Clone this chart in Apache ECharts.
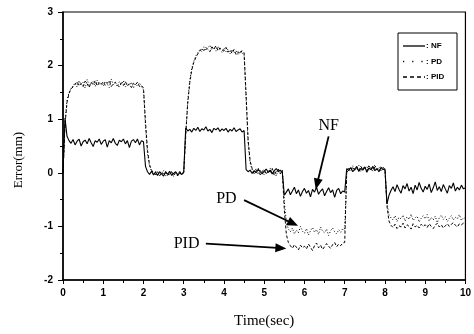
<!DOCTYPE html>
<html>
<head>
<meta charset="utf-8">
<script src="https://cdn.jsdelivr.net/npm/echarts@6/dist/echarts.min.js"></script>
<style>
  html, body { margin: 0; padding: 0; background: #fff; }
  #chart { width: 474px; height: 334px; }
</style>
</head>
<body>
<div id="chart"></div>
<script>
// Tracking error of three controllers, sampled every 0.05 s from 0 to 10 s.
const sampleStep = 0.05;

// NF controller error (mm), one row per second
const nf = [
  0.00, 1.02, 0.68, 0.60, 0.55, 0.62, 0.52, 0.59, 0.63, 0.50, 0.58, 0.61, 0.54, 0.64, 0.56, 0.49, 0.60, 0.57, 0.63, 0.53,
  0.59, 0.62, 0.48, 0.60, 0.56, 0.64, 0.55, 0.51, 0.61, 0.58, 0.63, 0.54, 0.60, 0.47, 0.59, 0.62, 0.56, 0.63, 0.52, 0.60,
  0.58, 0.12, 0.02, -0.03, 0.03, -0.04, 0.01, -0.05, 0.02, -0.02, -0.06, 0.01, -0.03, 0.03, -0.05, -0.01, 0.02, -0.04, 0.00, -0.03,
  0.02, 0.84, 0.78, 0.81, 0.76, 0.83, 0.79, 0.85, 0.77, 0.82, 0.80, 0.86, 0.78, 0.81, 0.75, 0.83, 0.80, 0.84, 0.77, 0.82,
  0.79, 0.83, 0.76, 0.81, 0.78, 0.84, 0.77, 0.80, 0.82, 0.76, 0.79, 0.06, 0.02, 0.05, -0.01, 0.04, 0.00, 0.06, 0.02, -0.02,
  0.03, 0.07, 0.01, 0.05, -0.02, 0.04, 0.08, 0.02, 0.05, 0.00, -0.42, -0.36, -0.30, -0.41, -0.34, -0.27, -0.39, -0.32, -0.44, -0.35,
  -0.29, -0.38, -0.33, -0.45, -0.31, -0.36, -0.27, -0.40, -0.34, -0.30, -0.43, -0.35, -0.28, -0.37, -0.32, -0.46, -0.33, -0.29, -0.39, -0.34,
  -0.36, 0.08, 0.04, 0.10, 0.02, 0.07, 0.12, 0.03, 0.08, 0.05, 0.11, 0.01, 0.09, 0.06, 0.12, 0.04, 0.08, 0.02, 0.10, 0.06,
  0.07, -0.58, -0.42, -0.33, -0.26, -0.35, -0.22, -0.31, -0.38, -0.24, -0.30, -0.20, -0.34, -0.27, -0.39, -0.23, -0.32, -0.18, -0.29, -0.36,
  -0.25, -0.31, -0.21, -0.37, -0.28, -0.17, -0.33, -0.26, -0.35, -0.22, -0.30, -0.38, -0.24, -0.29, -0.19, -0.34, -0.27, -0.32, -0.23, -0.30,
  -0.28
];

// PD controller error (mm)
const pd = [
  0.00, 0.95, 1.35, 1.50, 1.58, 1.62, 1.68, 1.60, 1.72, 1.64, 1.69, 1.58, 1.74, 1.63, 1.67, 1.70, 1.61, 1.73, 1.65, 1.68,
  1.62, 1.71, 1.66, 1.59, 1.75, 1.64, 1.68, 1.61, 1.70, 1.65, 1.72, 1.60, 1.67, 1.63, 1.69, 1.58, 1.66, 1.62, 1.68, 1.60,
  1.55, 0.85, 0.35, 0.12, 0.04, -0.02, 0.03, -0.05, 0.01, -0.03, 0.04, -0.06, 0.00, -0.04, 0.02, -0.07, 0.01, -0.02, 0.03, -0.05,
  0.00, 0.75, 1.35, 1.72, 1.95, 2.08, 2.18, 2.24, 2.30, 2.26, 2.35, 2.28, 2.33, 2.38, 2.29, 2.34, 2.27, 2.36, 2.30, 2.25,
  2.33, 2.26, 2.31, 2.22, 2.30, 2.24, 2.28, 2.20, 2.27, 2.23, 2.21, 1.35, 0.55, 0.18, 0.06, 0.02, 0.08, -0.03, 0.05, 0.01,
  -0.04, 0.06, 0.00, 0.09, -0.02, 0.04, -0.06, 0.07, 0.01, 0.05, -0.55, -0.92, -1.05, -1.10, -1.03, -1.14, -1.07, -1.12, -1.00, -1.09,
  -1.13, -1.04, -1.16, -1.08, -1.02, -1.11, -1.06, -1.15, -1.01, -1.09, -1.12, -1.05, -1.17, -1.08, -1.03, -1.10, -1.14, -1.06, -1.11, -1.04,
  -1.08, 0.02, 0.10, 0.06, 0.13, 0.04, 0.09, 0.14, 0.03, 0.11, 0.07, 0.12, 0.05, 0.10, 0.08, 0.15, 0.04, 0.09, 0.12, 0.06,
  0.08, -0.55, -0.78, -0.84, -0.88, -0.80, -0.91, -0.83, -0.86, -0.79, -0.90, -0.82, -0.87, -0.77, -0.89, -0.84, -0.81, -0.92, -0.85, -0.80,
  -0.86, -0.78, -0.90, -0.83, -0.88, -0.81, -0.93, -0.84, -0.79, -0.87, -0.82, -0.91, -0.85, -0.80, -0.88, -0.83, -0.86, -0.78, -0.89, -0.84,
  -0.85
];

// PID controller error (mm)
const pid = [
  0.00, 0.90, 1.32, 1.48, 1.57, 1.60, 1.65, 1.70, 1.62, 1.67, 1.61, 1.71, 1.66, 1.59, 1.69, 1.64, 1.72, 1.62, 1.68, 1.65,
  1.70, 1.63, 1.67, 1.72, 1.61, 1.66, 1.69, 1.64, 1.60, 1.68, 1.63, 1.70, 1.62, 1.66, 1.59, 1.67, 1.64, 1.69, 1.61, 1.63,
  1.58, 0.95, 0.42, 0.15, 0.05, 0.00, -0.04, 0.02, -0.06, 0.01, -0.02, 0.03, -0.05, -0.01, 0.02, -0.04, 0.00, -0.06, 0.02, -0.02,
  0.00, 0.70, 1.30, 1.68, 1.92, 2.06, 2.15, 2.22, 2.27, 2.32, 2.28, 2.34, 2.30, 2.26, 2.35, 2.31, 2.37, 2.28, 2.33, 2.29,
  2.27, 2.34, 2.25, 2.29, 2.23, 2.30, 2.21, 2.26, 2.22, 2.28, 2.24, 1.45, 0.62, 0.22, 0.08, -0.02, 0.04, 0.09, -0.04, 0.03,
  0.06, -0.03, 0.05, 0.01, 0.08, -0.05, 0.03, 0.07, -0.02, 0.04, -0.70, -1.15, -1.30, -1.36, -1.41, -1.34, -1.39, -1.44, -1.35, -1.40,
  -1.37, -1.42, -1.33, -1.39, -1.45, -1.36, -1.31, -1.40, -1.35, -1.43, -1.38, -1.32, -1.37, -1.41, -1.34, -1.30, -1.38, -1.33, -1.36, -1.31,
  -1.30, 0.00, 0.08, 0.03, 0.11, 0.05, 0.09, 0.02, 0.12, 0.06, 0.10, 0.04, 0.13, 0.07, 0.03, 0.11, 0.06, 0.09, 0.04, 0.10,
  0.07, -0.62, -0.90, -0.98, -1.02, -0.96, -1.04, -0.99, -1.01, -0.94, -1.03, -0.97, -1.00, -1.05, -0.95, -1.01, -0.98, -1.03, -0.96, -1.00,
  -0.97, -1.02, -0.95, -1.00, -1.04, -0.98, -0.94, -1.01, -0.97, -1.03, -0.99, -0.95, -1.00, -0.96, -0.93, -0.98, -1.01, -0.95, -0.97, -0.94,
  -0.96
];

// Callout labels with their arrows, in data coordinates (time, error)
const callouts = [
  { text: 'NF',  at: [6.60, 0.87],  from: [6.60, 0.68],  to: [6.28, -0.31] },
  { text: 'PD',  at: [4.06, -0.48], from: [4.50, -0.51], to: [5.84, -0.99] },
  { text: 'PID', at: [3.07, -1.33], from: [3.55, -1.32], to: [5.55, -1.41] }
];

const times = nf.map((_, i) => +(i * sampleStep).toFixed(2));
const pairs = vals => vals.map((v, i) => [times[i], v]);

const chart = echarts.init(document.getElementById('chart'), null, { renderer: 'canvas' });

const tickFont = { fontFamily: 'Liberation Sans, Arial, sans-serif', fontSize: 10, fontWeight: 'bold', color: '#000' };
const axisLine = { show: true, onZero: false, lineStyle: { color: '#000', width: 1.5 } };

const option = {
  animation: false,
  backgroundColor: '#fff',
  grid: { left: 63, right: 2, top: 12, bottom: 50, show: true, borderColor: '#000', borderWidth: 1.2 },
  xAxis: {
    type: 'value', min: 0, max: 10, interval: 1,
    axisLine: axisLine,
    axisTick: { show: true, inside: false, length: 4, lineStyle: { color: '#000', width: 1 } },
    minorTick: { show: true, splitNumber: 2, length: 3, lineStyle: { color: '#000', width: 1 } },
    axisLabel: Object.assign({ margin: 8 }, tickFont),
    splitLine: { show: false },
    name: 'Time(sec)', nameLocation: 'middle', nameGap: 34,
    nameTextStyle: { fontFamily: 'Liberation Serif, Times New Roman, serif', fontSize: 15, color: '#000' }
  },
  yAxis: {
    type: 'value', min: -2, max: 3, interval: 1,
    axisLine: axisLine,
    axisTick: { show: true, inside: false, length: 5, lineStyle: { color: '#000', width: 1 } },
    minorTick: { show: true, splitNumber: 2, length: 3, lineStyle: { color: '#000', width: 1 } },
    axisLabel: Object.assign({ margin: 10 }, tickFont),
    splitLine: { show: false }
  },
  series: [
    {
      name: 'NF', type: 'line', data: pairs(nf), showSymbol: false, symbol: 'none',
      lineStyle: { color: '#000', width: 1.1, type: 'solid' }, z: 3
    },
    {
      name: 'PD', type: 'line', data: pairs(pd), showSymbol: false, symbol: 'none',
      lineStyle: { color: '#000', width: 1, type: [1, 2] }, z: 2
    },
    {
      name: 'PID', type: 'line', data: pairs(pid), showSymbol: false, symbol: 'none',
      lineStyle: { color: '#000', width: 1, type: [3, 2] }, z: 2
    }
  ]
};

chart.setOption(option);

// Axis title, callouts with arrows, and the key box
const serif = 'Liberation Serif, Times New Roman, serif';
const toPx = v => chart.convertToPixel({ gridIndex: 0 }, v);
const graphics = [
  {
    type: 'text', x: 19, y: 160, rotation: Math.PI / 2,
    style: { text: 'Error(mm)', font: '13px ' + serif, fill: '#000', align: 'center', verticalAlign: 'middle' }
  }
];
callouts.forEach(c => {
  const p = toPx(c.at);
  graphics.push({
    type: 'text', x: p[0], y: p[1],
    style: { text: c.text, font: '16px ' + serif, fill: '#000', align: 'center', verticalAlign: 'middle' }
  });
  const a = toPx(c.from), b = toPx(c.to);
  const dx = b[0] - a[0], dy = b[1] - a[1];
  const len = Math.hypot(dx, dy);
  const ux = dx / len, uy = dy / len;
  const headLen = 11, headHalf = 4.5;
  const bx = b[0] - ux * headLen, by = b[1] - uy * headLen;
  graphics.push({
    type: 'line', shape: { x1: a[0], y1: a[1], x2: bx + ux * 2, y2: by + uy * 2 },
    style: { stroke: '#000', lineWidth: 1.8 }, z: 10
  });
  graphics.push({
    type: 'polygon',
    shape: { points: [[b[0], b[1]], [bx - uy * headHalf, by + ux * headHalf], [bx + uy * headHalf, by - ux * headHalf]] },
    style: { fill: '#000' }, z: 10
  });
});

const key = [
  { label: ': NF',  dash: null },
  { label: ': PD',  dash: [1.2, 8] },
  { label: ': PID', dash: [4, 3] }
];
const keyGroup = {
  type: 'group', x: 398, y: 33,
  children: [
    { type: 'rect', shape: { x: 0, y: 0, width: 59, height: 57 }, style: { fill: '#fff', stroke: '#000', lineWidth: 1 } }
  ]
};
key.forEach((k, i) => {
  const yy = 13 + i * 15.5;
  keyGroup.children.push({
    type: 'line', shape: { x1: 5, y1: yy, x2: 27, y2: yy },
    style: { stroke: '#000', lineWidth: 1.3, lineDash: k.dash || null }
  });
  keyGroup.children.push({
    type: 'text', x: 28, y: yy,
    style: { text: k.label, font: 'bold 8px Liberation Sans, Arial, sans-serif', fill: '#000', verticalAlign: 'middle' }
  });
});
graphics.push(keyGroup);

chart.setOption({ graphic: graphics });
</script>
</body>
</html>
